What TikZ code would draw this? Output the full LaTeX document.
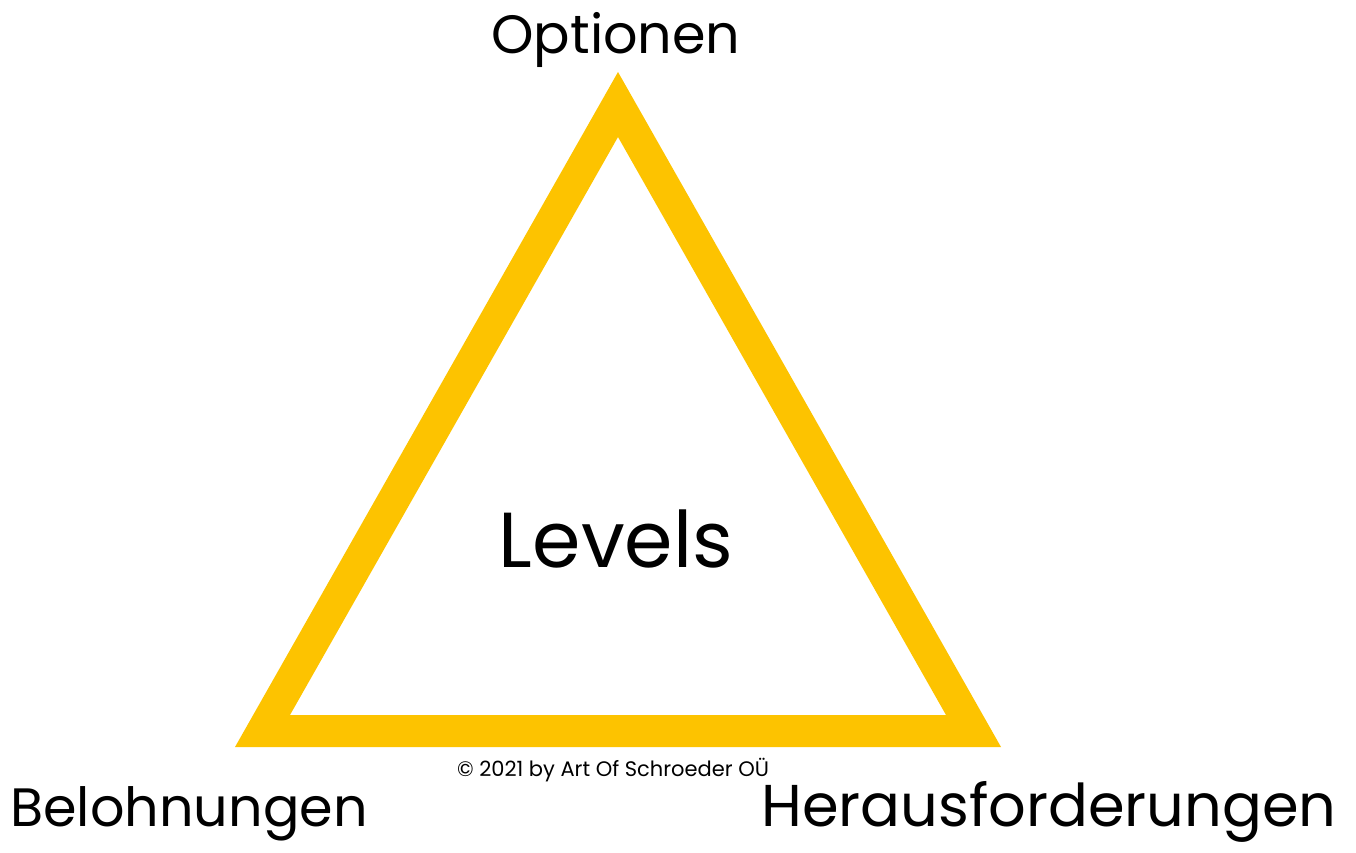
\documentclass[tikz,border=0pt]{standalone}
\usepackage{fontspec}
\setmainfont{Poppins}
\usepackage{xcolor}
\definecolor{levelgold}{HTML}{FDC300}

\begin{document}
\begin{tikzpicture}[
  x=1pt,y=-1pt,
  corner/.style={inner sep=0pt,anchor=base,font=\fontsize{54}{54}\selectfont},
  centre/.style={inner sep=0pt,anchor=base,font=\fontsize{78}{78}\selectfont},
  credit/.style={inner sep=0pt,anchor=base,font=\fontsize{21}{21}\selectfont}
]
\useasboundingbox (0,0) rectangle (1356,852);
% triangle frame
\coordinate (otop) at (618,72);
\coordinate (oleft) at (235,747);
\coordinate (oright) at (1001,747);
\coordinate (itop) at (618,137);
\coordinate (ileft) at (290,715);
\coordinate (iright) at (946,715);
\fill[levelgold,even odd rule] (otop) -- (oleft) -- (oright) -- cycle
  (itop) -- (ileft) -- (iright) -- cycle;

\node[corner] (opt) at (616,53) {Optionen};
\node[corner] (bel) at (189,826) {Belohnungen};
\node[corner,font=\fontsize{59}{59}\selectfont] (her) at (1049,826) {Herausforderungen};
\node[centre] (lev) at (616,567) {Levels};
\node[credit] (copy) at (613,776) {© 2021 by Art Of Schroeder OÜ};
\end{tikzpicture}
\end{document}
